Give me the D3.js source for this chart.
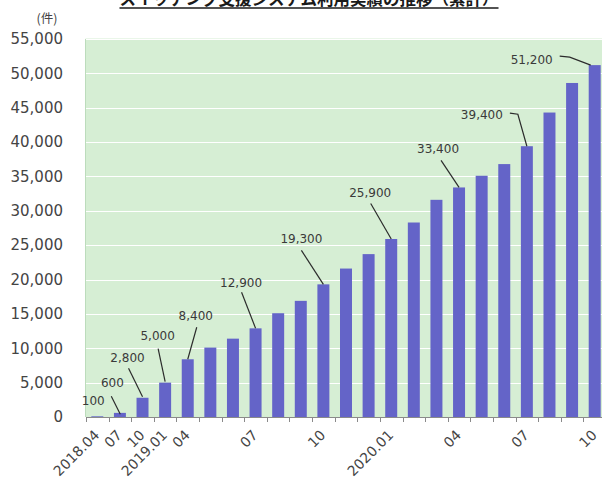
<!DOCTYPE html>
<html>
<head>
<meta charset="utf-8">
<script src="https://cdn.jsdelivr.net/npm/d3@7/dist/d3.min.js"></script>
<style>
  html, body { margin: 0; padding: 0; background: #fff; }
  svg { display: block; }
</style>
</head>
<body>
<svg id="chart" width="602" height="482"></svg>
<script>
// Cumulative usage of the switching support system
const categories = [
  "2018.04", "2018.07", "2018.10", "2019.01",
  "2019.04", "2019.05", "2019.06", "2019.07", "2019.08", "2019.09",
  "2019.10", "2019.11", "2019.12", "2020.01", "2020.02", "2020.03",
  "2020.04", "2020.05", "2020.06", "2020.07", "2020.08", "2020.09", "2020.10"
];
const values = [
  100, 600, 2800, 5000,
  8400, 10100, 11400, 12900, 15100, 16900,
  19300, 21600, 23700, 25900, 28300, 31600,
  33400, 35100, 36800, 39400, 44300, 48600, 51200
];
// Category labels printed on the x axis (others left blank)
const tickLabels = {
  "2018.04": "2018.04", "2018.07": "07", "2018.10": "10", "2019.01": "2019.01",
  "2019.04": "04", "2019.07": "07", "2019.10": "10", "2020.01": "2020.01",
  "2020.04": "04", "2020.07": "07", "2020.10": "10"
};
const yTicks = [0, 5000, 10000, 15000, 20000, 25000, 30000, 35000, 40000, 45000, 50000, 55000];
// Bars that carry a value callout
const labelledBars = ["2018.04", "2018.07", "2018.10", "2019.01", "2019.04", "2019.07",
                      "2019.10", "2020.01", "2020.04", "2020.07", "2020.10"];

const title = "スイッチング支援システム利用実績の推移（累計）";
const unit = "(件)";

// Callout placement relative to the top centre of each bar (pixels)
const calloutLayout = {
  "2018.04": { text: [-4, -11],   leader: [[14, -20], [23, -2]] },
  "2018.07": { text: [-7.5, -26], leader: null },
  "2018.10": { text: [-15, -36],  leader: [[-14, -29.5], [0, -1]] },
  "2019.01": { text: [-7.5, -43], leader: [[-7, -34], [0, -1]] },
  "2019.04": { text: [8, -39],    leader: [[9, -32], [0, 0]] },
  "2019.07": { text: [-14.5, -41],leader: [[-14, -36], [0, 0]] },
  "2019.10": { text: [-22, -41],  leader: [[-22, -34], [0, 0]] },
  "2020.01": { text: [-21, -42],  leader: [[-20.5, -35.5], [0, 0]] },
  "2020.04": { text: [-21, -34],  leader: [[-18, -27], [0, 0]] },
  "2020.07": { text: [-45, -27],  leader: [[-17, -33], [-9, -32], [0, 0]] },
  "2020.10": { text: [-63, -1],   leader: [[-35, -9], [-25, -8], [-4, 0]] }
};

const svg = d3.select("#chart");
const plot = { left: 86, right: 606, top: 39, bottom: 417 };

const x = d3.scaleBand()
  .domain(categories)
  .range([plot.left, plot.right])
  .paddingInner(0.47)
  .paddingOuter(0.235);

const y = d3.scaleLinear()
  .domain([0, 55000])
  .range([plot.bottom, plot.top]);

const numFmt = d3.format(",");
const cx = c => x(c) + x.bandwidth() / 2;

// Title (underlined)
const titleText = svg.append("text")
  .attr("x", 309).attr("y", 5)
  .attr("text-anchor", "middle")
  .attr("font-family", "'Noto Sans CJK JP', sans-serif")
  .attr("font-weight", "bold")
  .attr("font-size", 16.5)
  .attr("fill", "#1a1a1a")
  .text(title);
const tb = titleText.node().getBBox();
svg.append("line")
  .attr("x1", tb.x).attr("x2", tb.x + tb.width)
  .attr("y1", 8).attr("y2", 8)
  .attr("stroke", "#1a1a1a").attr("stroke-width", 1.5);

// Unit label
svg.append("text")
  .attr("x", 47).attr("y", 23)
  .attr("text-anchor", "middle")
  .attr("font-family", "'Noto Sans CJK JP', sans-serif")
  .attr("font-size", 12.5)
  .attr("fill", "#444")
  .text(unit);

// Plot background
svg.append("rect")
  .attr("x", plot.left - 0.5).attr("y", y(55000) - 0.5)
  .attr("width", plot.right - plot.left + 1)
  .attr("height", y(0) - y(55000) + 0.5)
  .attr("fill", "#d6eed4");

svg.append("line")
  .attr("x1", plot.left - 0.5).attr("x2", plot.left - 0.5)
  .attr("y1", y(55000)).attr("y2", y(0))
  .attr("stroke", "#bcdcbc").attr("stroke-width", 1);

// Horizontal gridlines
svg.append("g")
  .selectAll("line")
  .data(yTicks.filter(t => t > 0))
  .join("line")
  .attr("x1", plot.left).attr("x2", plot.right)
  .attr("y1", d => Math.round(y(d)) + 0.5)
  .attr("y2", d => Math.round(y(d)) + 0.5)
  .attr("stroke", "#ffffff").attr("stroke-width", 1.2);

// Y axis labels
const yAxis = d3.axisLeft(y).tickValues(yTicks).tickFormat(numFmt).tickSize(0).tickPadding(0);
svg.append("g")
  .attr("transform", "translate(63,0)")
  .call(yAxis)
  .call(g => g.select(".domain").remove())
  .call(g => g.selectAll("text")
    .attr("font-family", "'DejaVu Sans', Verdana, sans-serif")
    .attr("font-size", 15)
    .attr("fill", "#444"));

// Bars
svg.append("g")
  .selectAll("rect")
  .data(categories.map((c, i) => ({ c, v: values[i] })))
  .join("rect")
  .attr("x", d => x(d.c))
  .attr("width", x.bandwidth())
  .attr("y", d => y(d.v))
  .attr("height", d => y(0) - y(d.v))
  .attr("fill", "#6464c8");

// X axis: baseline, ticks at category boundaries, rotated labels
const step = x.step();
const boundaries = d3.range(categories.length + 1).map(i => plot.left + i * step);
const xg = svg.append("g");
xg.append("line")
  .attr("x1", plot.left).attr("x2", plot.right)
  .attr("y1", y(0) + 0.5).attr("y2", y(0) + 0.5)
  .attr("stroke", "#8a8a8a").attr("stroke-width", 1);
xg.selectAll("line.tick")
  .data(boundaries)
  .join("line")
  .attr("class", "tick")
  .attr("x1", d => Math.round(d) + 0.5).attr("x2", d => Math.round(d) + 0.5)
  .attr("y1", y(0)).attr("y2", y(0) + 5)
  .attr("stroke", "#8a8a8a").attr("stroke-width", 1);
xg.selectAll("text")
  .data(categories.filter(c => tickLabels[c]))
  .join("text")
  .attr("transform", c => `translate(${cx(c) + 3},${y(0) + 19}) rotate(-45)`)
  .attr("text-anchor", "end")
  .attr("font-family", "'DejaVu Sans', Verdana, sans-serif")
  .attr("font-size", 14)
  .attr("fill", "#444")
  .text(c => tickLabels[c]);

// Value callouts with leader lines
const cg = svg.append("g");
labelledBars.forEach(c => {
  const i = categories.indexOf(c);
  const bx = cx(c), by = y(values[i]);
  const lay = calloutLayout[c];
  if (lay.leader) {
    cg.append("path")
      .attr("d", d3.line()(lay.leader.map(p => [bx + p[0], by + p[1]])))
      .attr("fill", "none")
      .attr("stroke", "#2b2b2b")
      .attr("stroke-width", 1.2);
  }
  cg.append("text")
    .attr("x", bx + lay.text[0])
    .attr("y", by + lay.text[1])
    .attr("text-anchor", "middle")
    .attr("font-family", "'DejaVu Sans', Verdana, sans-serif")
    .attr("font-size", 12)
    .attr("fill", "#3a3a3a")
    .text(numFmt(values[i]));
});
</script>
</body>
</html>
